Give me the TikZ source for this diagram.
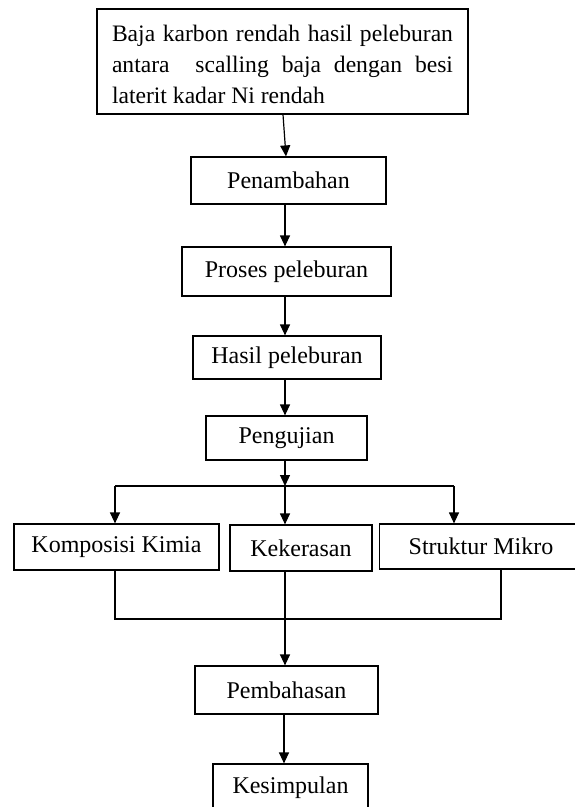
\documentclass[tikz,border=0pt]{standalone}
\usepackage{fontspec}
\setmainfont{Liberation Serif}
\usetikzlibrary{arrows.meta}
\begin{document}
\begin{tikzpicture}[x=1pt,y=-1pt,
  box/.style={draw, line width=1.2pt, inner sep=0pt, font=\fontsize{24}{31}\selectfont},
  arr/.style={line width=1.2pt, -{Triangle[length=11pt,width=10pt]}},
  ln/.style={line width=1.2pt}]
\useasboundingbox (0,0) rectangle (575,807);
\clip (0,0) rectangle (575,807);
\node[box, font=\fontsize{23.6}{31}\selectfont, minimum width=371pt, minimum height=105pt, text width=341pt, align=justify] (top) at (282.5,61.5)
  {\hyphenpenalty=10000 \rule{0pt}{22pt}Baja karbon rendah hasil peleburan\linebreak
   antara\ \ scalling baja dengan besi\linebreak
   laterit kadar Ni rendah};
\node[box, minimum width=195pt, minimum height=47pt] (pen) at (288.5,180.5) {Penambahan};
\node[box, minimum width=209pt, minimum height=49pt] (pro) at (286.5,271.5) {Proses peleburan};
\node[box, minimum width=188pt, minimum height=43pt] (has) at (287,357.5) {Hasil peleburan};
\node[box, minimum width=161pt, minimum height=44pt] (uji) at (286.5,438) {Pengujian};
\node[box, minimum width=205pt, minimum height=46pt] (kom) at (116.5,547) {Komposisi Kimia};
\node[box, minimum width=142pt, minimum height=46pt] (kek) at (301,548) {Kekerasan};
\node[box, minimum width=203pt, minimum height=45pt] (str) at (481,546.5) {Struktur Mikro};
\node[box, minimum width=183pt, minimum height=48pt] (bah) at (286.5,690) {Pembahasan};
\node[box, minimum width=155pt, minimum height=48pt] (kes) at (290.5,788) {Kesimpulan};
\coordinate (sp) at (285,0);
\coordinate (jn) at (285,486);
\coordinate (jl) at (115,486);
\coordinate (jr) at (454,486);
\coordinate (bl) at (115,619);
\coordinate (br) at (501,619);
\draw[arr] ([xshift=0.5pt]top.south) -- ([xshift=-2.5pt]pen.north);
\draw[arr] (pen.south -| sp) -- (pro.north -| sp);
\draw[arr] (pro.south -| sp) -- (has.north -| sp);
\draw[arr] (has.south -| sp) -- (uji.north -| sp);
\draw[arr] (uji.south -| sp) -- (jn);
\draw[ln] (jl) -- (jr);
\draw[arr] (jl) -- (kom.north -| jl);
\draw[arr] (jn) -- (kek.north -| jn);
\draw[arr] (jr) -- (str.north -| jr);
\draw[ln] (kom.south -| bl) -- (bl) -- (br) -- (str.south -| br);
\draw[arr] (kek.south -| sp) -- (bah.north -| sp);
\draw[arr] ([xshift=-1pt]bah.south -| sp) -- ([xshift=-1pt]kes.north -| sp);
\end{tikzpicture}
\end{document}
